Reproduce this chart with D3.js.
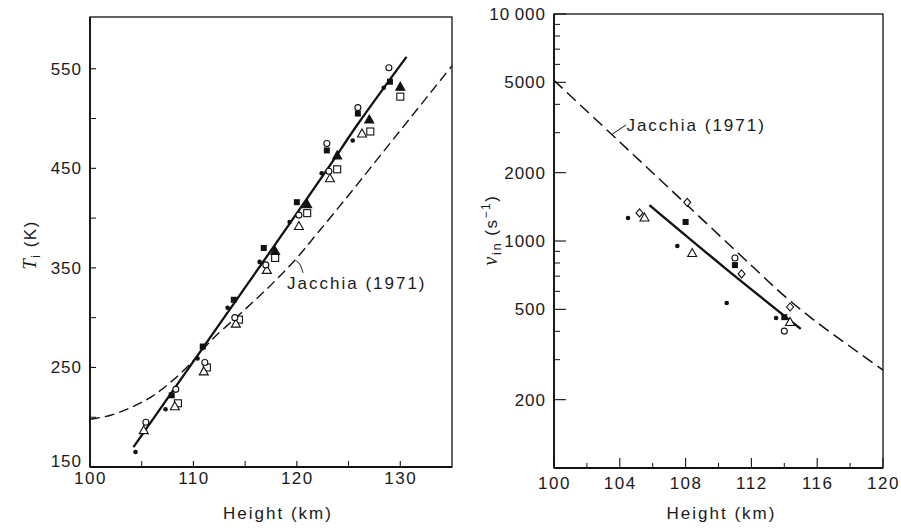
<!DOCTYPE html>
<html><head><meta charset="utf-8">
<script src="https://cdn.jsdelivr.net/npm/d3@7/dist/d3.min.js"></script>
<style>
body{margin:0;background:#fff;}
svg text{font-family:"Liberation Sans",Arial,sans-serif;fill:#1a1a1a;}
</style></head>
<body><svg id="c" width="901" height="530"></svg>
<script>
// ---------- Left panel data: ion temperature vs height ----------
const leftXTicks = [100, 110, 120, 130];
const leftXMinor = [105, 115, 125];
const leftYTicks = [150, 250, 350, 450, 550];
const leftYMinor = [200, 300, 400, 500];
const leftFit = [[104.2,170],[111,271],[117,360],[123,450],[126,496],[130.6,562]];
const leftJacchia = [[100,198],[102,202],[104,210],[106,221],[108,237],[110,257],[111,269],[112,280],[114,299],[116,318],[118,338],[120,360],[122,385],[125,423],[128,462],[131,501],[135,553]];
const leftDot = [[128.4,531],[125.4,478],[122.4,445],[119.3,396],[116.4,356],[113.3,310],[110.4,259],[107.3,208],[104.4,165]];
const leftFilledSquare = [[129.0,537],[125.9,505],[122.9,468],[120.0,416],[116.8,370],[113.9,318],[110.9,271],[107.9,222]];
const leftFilledTri = [[130.0,532],[127.0,499],[123.9,463],[121.0,414],[117.9,367]];
const leftOpenSquare = [[130.0,522],[127.1,487],[123.9,449],[121.0,405],[117.9,360],[114.4,298],[111.3,250],[108.5,214]];
const leftOpenTri = [[126.3,485],[123.2,440],[120.2,392],[117.1,348],[114.1,294],[111.0,246],[108.2,211],[105.2,187]];
const leftOpenCircle = [[128.9,551],[125.9,511],[122.9,475],[123.1,447],[120.2,403],[117.0,353],[114.0,300],[111.1,255],[108.3,228],[105.4,195]];
const leftLabelPos = [119.05, 335];
const leftLeader = [[120.6,345],[120.3,355],[119.9,357]];

// ---------- Right panel data: collision frequency vs height ----------
const rightXTicks = [100, 104, 108, 112, 116, 120];
const rightXMinor = [102, 106, 110, 114, 118];
const rightYTicks = [200, 500, 1000, 2000, 5000, 10000];
const rightYTickLabels = ["200", "500", "1000", "2000", "5000", "10\u2009000"];
const rightYMinor = [300, 400, 600, 700, 800, 900, 3000, 4000, 6000, 7000, 8000, 9000];
const rightFit = [[105.8,1440],[110.4,760],[115,410]];
const rightJacchia = [[100,5100],[104,2730],[108,1460],[112,780],[114,573],[116,437],[118,343],[120,270]];
const rightDot = [[104.5,1262],[107.5,950],[110.5,533],[113.5,458]];
const rightOpenDiamond = [[105.2,1330],[108.1,1480],[111.4,716],[114.35,512]];
const rightOpenTri = [[105.5,1270],[108.4,885],[114.35,440]];
const rightFilledSquare = [[108.0,1213],[111.0,783],[114.0,462]];
const rightOpenCircle = [[111.0,841],[114.0,401]];
const rightLabelPos = [104.4, 3245];
const rightLeader = [[103.55,2960],[104.38,3245]];

const svg = d3.select("#c");
const FS = 17;

// scales
const xL = d3.scaleLinear().domain([100,135]).range([90,452]);
const yL = d3.scaleLinear().domain([150,602]).range([467,17]);
const xR = d3.scaleLinear().domain([100,120]).range([554,883]);
const yR = d3.scaleLog().domain([100,10000]).range([468,14]);

function frame(x, y) {
  const [x0,x1] = x.range(), [y0,y1] = y.range();
  svg.append("rect").attr("x",x0).attr("y",y1).attr("width",x1-x0).attr("height",y0-y1)
    .attr("fill","none").attr("stroke","#111").attr("stroke-width",1.3);
  svg.append("line").attr("x1",x0).attr("x2",x0).attr("y1",y1).attr("y2",y0).attr("stroke","#111").attr("stroke-width",1.8);
  svg.append("line").attr("x1",x0).attr("x2",x1).attr("y1",y0).attr("y2",y0).attr("stroke","#111").attr("stroke-width",1.8);
}
frame(xL,yL); frame(xR,yR);

// axes with inward ticks
function xAxis(x, y, major, minor, majLen, minLen, labelDy) {
  const y0 = y.range()[0];
  const ax = svg.append("g").attr("transform",`translate(0,${y0})`)
    .call(d3.axisBottom(x).tickValues(major).tickSize(0).tickPadding(labelDy).tickFormat(d=>d));
  ax.select(".domain").remove();
  ax.selectAll("text").attr("font-size",FS).style("letter-spacing","1.5px").attr("fill","#1a1a1a");
  major.forEach(v=>svg.append("line").attr("x1",x(v)).attr("x2",x(v)).attr("y1",y0).attr("y2",y0-majLen).attr("stroke","#111").attr("stroke-width",1.1));
  minor.forEach(v=>svg.append("line").attr("x1",x(v)).attr("x2",x(v)).attr("y1",y0).attr("y2",y0-minLen).attr("stroke","#111").attr("stroke-width",1));
}
function yAxis(x, y, major, minor, majLen, minLen, labels) {
  const x0 = x.range()[0];
  const ax = svg.append("g").attr("transform",`translate(${x0},0)`)
    .call(d3.axisLeft(y).tickValues(major).tickSize(0).tickPadding(8).tickFormat((d,i)=>labels?labels[i]:d));
  ax.select(".domain").remove();
  ax.selectAll("text").attr("font-size",FS).style("letter-spacing","1px").attr("fill","#1a1a1a");
  major.forEach(v=>svg.append("line").attr("x1",x0).attr("x2",x0+majLen).attr("y1",y(v)).attr("y2",y(v)).attr("stroke","#111").attr("stroke-width",1.1));
  minor.forEach(v=>svg.append("line").attr("x1",x0).attr("x2",x0+minLen).attr("y1",y(v)).attr("y2",y(v)).attr("stroke","#111").attr("stroke-width",1));
  return ax;
}
xAxis(xL,yL,leftXTicks,leftXMinor,6,6,5);
const axYL = yAxis(xL,yL,leftYTicks,leftYMinor,6,6);
// bottom label sits slightly above the corner, as in the original
axYL.selectAll(".tick").filter(d=>d===yL.domain()[0]).select("text").attr("y",-6);
xAxis(xR,yR,rightXTicks,rightXMinor,10,5,9);
yAxis(xR,yR,rightYTicks,rightYMinor,12,6,rightYTickLabels);

// axis titles
function xTitle(cx, text) {
  svg.append("text").attr("x",cx).attr("y",519).attr("text-anchor","middle")
    .attr("font-size",FS).style("letter-spacing","2px").text(text);
}
xTitle((xL.range()[0]+xL.range()[1])/2+7, "Height (km)");
xTitle((xR.range()[0]+xR.range()[1])/2+3, "Height (km)");

const tl = svg.append("text").attr("transform","translate(36,245) rotate(-90)")
  .attr("text-anchor","middle").attr("font-size",FS).style("letter-spacing","1.5px");
tl.append("tspan").attr("font-style","italic").attr("font-family","Liberation Serif, serif").attr("font-size",19).text("T");
tl.append("tspan").attr("font-size",12).attr("dy",4).text("i");
tl.append("tspan").attr("dy",-4).text(" (K)");

const tr = svg.append("text").attr("transform","translate(497,230) rotate(-90)")
  .attr("text-anchor","middle").attr("font-size",FS).style("letter-spacing","1.5px");
tr.append("tspan").attr("font-style","italic").attr("font-family","Liberation Serif, serif").attr("font-size",20).text("\u03BD");
tr.append("tspan").attr("font-size",13).attr("dy",4).text("in");
tr.append("tspan").attr("dy",-4).text(" (s");
tr.append("tspan").attr("font-size",12).attr("dy",-7).text("\u22121");
tr.append("tspan").attr("dy",7).text(")");

// curves
function curve(data, x, y, dash, w) {
  svg.append("path").datum(data)
    .attr("d", d3.line().x(d=>x(d[0])).y(d=>y(d[1])).curve(d3.curveCatmullRom.alpha(0.5)))
    .attr("fill","none").attr("stroke","#111").attr("stroke-width",w)
    .attr("stroke-dasharray",dash||null);
}
curve(leftJacchia, xL, yL, "10,5", 1.4);
curve(leftFit, xL, yL, null, 2.3);
curve(rightJacchia, xR, yR, "12,6", 1.5);
curve(rightFit, xR, yR, null, 2.4);

// markers
function markers(data, x, y, type) {
  const g = svg.append("g");
  data.forEach(([a,b])=>{
    const px = x(a), py = y(b);
    if (type==="dot") g.append("circle").attr("cx",px).attr("cy",py).attr("r",2.3).attr("fill","#111");
    else if (type==="ocircle") g.append("circle").attr("cx",px).attr("cy",py).attr("r",3).attr("fill","#fff").attr("stroke","#111").attr("stroke-width",1.1);
    else if (type==="fsquare") g.append("rect").attr("x",px-3).attr("y",py-3).attr("width",6).attr("height",6).attr("fill","#111");
    else if (type==="osquare") g.append("rect").attr("x",px-3.5).attr("y",py-3.5).attr("width",7).attr("height",7).attr("fill","#fff").attr("stroke","#111").attr("stroke-width",1.1);
    else if (type==="otri"||type==="ftri") g.append("path").attr("d",`M${px},${py-4.5}L${px+4.5},${py+3.5}L${px-4.5},${py+3.5}Z`)
      .attr("fill",type==="ftri"?"#111":"#fff").attr("stroke","#111").attr("stroke-width",1.1);
    else if (type==="odiamond") g.append("path").attr("d",`M${px},${py-4}L${px+3.5},${py}L${px},${py+4}L${px-3.5},${py}Z`)
      .attr("fill","#fff").attr("stroke","#111").attr("stroke-width",1.1);
  });
}
markers(leftOpenSquare, xL, yL, "osquare");
markers(leftOpenTri, xL, yL, "otri");
markers(leftOpenCircle, xL, yL, "ocircle");
markers(leftFilledSquare, xL, yL, "fsquare");
markers(leftFilledTri, xL, yL, "ftri");
markers(leftDot, xL, yL, "dot");

markers(rightOpenTri, xR, yR, "otri");
markers(rightOpenDiamond, xR, yR, "odiamond");
markers(rightOpenCircle, xR, yR, "ocircle");
markers(rightFilledSquare, xR, yR, "fsquare");
markers(rightDot, xR, yR, "dot");

// Jacchia annotations
svg.append("text").attr("x",xL(leftLabelPos[0])).attr("y",yL(leftLabelPos[1])+6)
  .attr("font-size",FS).style("letter-spacing","2px").text("Jacchia (1971)");
svg.append("path").datum(leftLeader)
  .attr("d",d3.line().x(d=>xL(d[0])).y(d=>yL(d[1])).curve(d3.curveBasis))
  .attr("fill","none").attr("stroke","#111").attr("stroke-width",1);
svg.append("text").attr("x",xR(rightLabelPos[0])).attr("y",yR(rightLabelPos[1])+6)
  .attr("font-size",FS).style("letter-spacing","2px").text("Jacchia (1971)");
svg.append("path").datum(rightLeader)
  .attr("d",d3.line().x(d=>xR(d[0])).y(d=>yR(d[1])))
  .attr("fill","none").attr("stroke","#111").attr("stroke-width",1);
</script></body></html>
